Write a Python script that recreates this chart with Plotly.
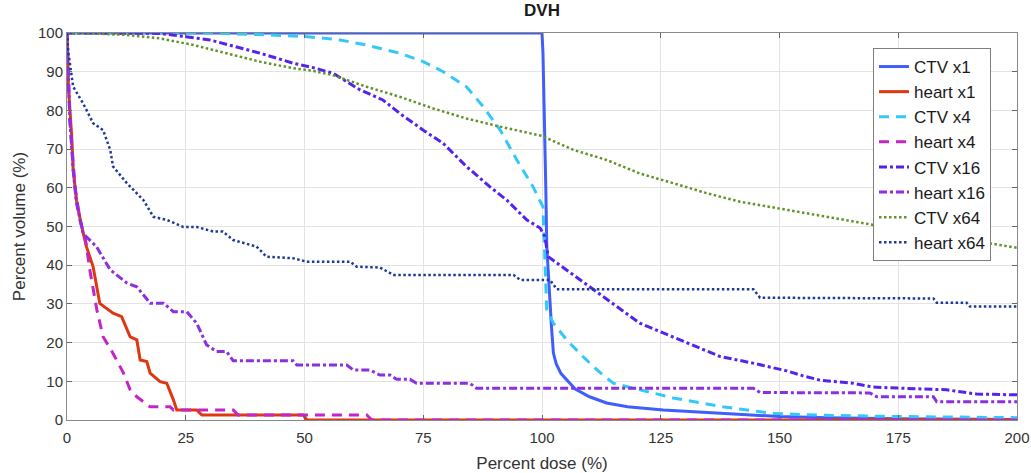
import plotly.graph_objects as go

# ---------------- data ----------------
dose_ctv1 = [0, 100, 100.2, 100.5, 100.8, 101, 101.5, 102, 102.4, 103, 104, 105.2, 107, 110, 113.6, 118, 125.5, 132, 140, 150, 160, 175, 200]
vol_ctv1 = [100, 100, 95, 80, 60, 45, 33, 24, 17.3, 14.5, 12, 10.3, 8, 6, 4.4, 3.4, 2.6, 2.1, 1.5, 0.9, 0.6, 0.3, 0.1]

dose_h1 = [0, 0.3, 1, 1.3, 2, 3.1, 4.1, 5.5, 6.9, 9.7, 11.5, 13.3, 14.7, 15.4, 16.8, 17.5, 19.6, 21, 22.4, 23.1, 27.3, 28.4, 49.7, 50.5, 200]
vol_h1 = [100, 86, 73, 64.6, 56.8, 49.9, 44.8, 39.6, 30.1, 27.6, 26.7, 21.5, 20.7, 15.5, 15.1, 12.1, 9.9, 9.5, 5.2, 2.6, 2.6, 1.3, 1.3, 0, 0]

dose_c4 = [0, 30, 40, 50, 57, 63, 70, 75, 79.2, 84.1, 87.6, 91.2, 94.7, 98.1, 100.2, 100.6, 101, 102.4, 105.2, 108.6, 112, 115, 120.6, 127.6, 138, 148.6, 160, 175, 200]
vol_c4 = [100, 100, 99.6, 99.1, 98.3, 96.9, 94.8, 92.6, 90, 86.1, 81, 74.9, 67.2, 60.3, 55.1, 42, 28.4, 25, 20.7, 16.4, 12.5, 9.5, 7.8, 5.7, 3.4, 1.7, 1.2, 0.9, 0.6]

dose_h4 = [0, 0.6, 1.7, 2.7, 3.8, 4.8, 6.3, 7.6, 9.7, 11.9, 13.3, 14.7, 17.5, 21.7, 22.4, 35, 36, 63.1, 64.2, 200]
vol_h4 = [100, 77.5, 60.3, 51.7, 47.4, 38.8, 28.4, 21.5, 17.2, 12.1, 7.8, 6, 3.4, 3.4, 2.6, 2.6, 1.3, 1.3, 0, 0]

dose_c16 = [0, 10, 19.6, 30.1, 40.6, 47.6, 52, 56, 61.7, 66.5, 70.1, 75, 79.2, 84.1, 89, 92.6, 96.8, 99.6, 100.6, 101.3, 105.2, 112.2, 120.6, 127.6, 137.5, 144.4, 151.5, 155, 158.5, 165.5, 169.7, 176, 185.2, 191.5, 200]
vol_c16 = [100, 100, 99.9, 98.2, 94.8, 92.2, 91, 89.6, 85.3, 82.7, 79.2, 74.9, 71.5, 65.5, 60.3, 56.8, 51.7, 49.6, 47.4, 42.2, 38.8, 32.5, 25, 21.5, 16.4, 14.7, 12.7, 11.4, 10.3, 9.5, 8.5, 8.2, 7.8, 6.7, 6.5]

dose_h16 = [0, 0.6, 1.3, 2, 3.4, 6.2, 9.1, 12.6, 14.7, 17.5, 20.3, 22.4, 25.2, 27.3, 29.4, 31.5, 33.6, 35, 47.6, 48.4, 58.9, 60.3, 63.8, 65.9, 68, 69.4, 72.2, 73.6, 84.8, 86.2, 144.5, 145.9, 169, 170.5, 182.4, 183.1, 200]
vol_h16 = [100, 77.5, 64.6, 56, 48.2, 44.8, 38.8, 35.4, 34.4, 30.2, 30.2, 28, 28, 25, 19.4, 17.7, 17.7, 15.3, 15.3, 14.2, 14.2, 12.9, 12.9, 11.6, 11.6, 10.5, 10.5, 9.5, 9.5, 8.2, 8.2, 7.1, 7.0, 6.0, 6.0, 4.7, 4.7]

dose_c64 = [0, 5, 12.6, 19.6, 26.6, 33.6, 40.6, 47.6, 51.9, 56, 63.1, 70.1, 77.1, 84.1, 91.2, 100, 106.6, 113.6, 120.6, 127.6, 134.7, 141.7, 151.5, 160, 175, 190, 200]
vol_c64 = [100, 99.9, 99.5, 98.6, 96.9, 94.8, 92.6, 90.9, 90.2, 89.1, 86.1, 83.5, 80.5, 77.9, 75.8, 73.4, 69.8, 67.2, 63.7, 61.2, 58.6, 56.4, 54.3, 52.5, 49.3, 46.5, 44.5]

dose_h64 = [0, 0.3, 1.3, 3.4, 5.5, 7.6, 9.1, 9.7, 12.6, 16.1, 18.2, 21, 24.5, 27.3, 30.8, 32.8, 35, 37.8, 39.9, 42, 47.6, 50.5, 59.6, 61, 65.9, 68.7, 94, 95.4, 101.7, 103.1, 144.5, 145.9, 182.4, 183.1, 189.4, 190.1, 200]
vol_h64 = [100, 94.8, 86.1, 81.8, 76.7, 74.9, 69.8, 65.5, 61.2, 56.8, 52.5, 51.7, 49.9, 49.9, 48.7, 48.7, 46.5, 45.6, 44.8, 42.2, 41.8, 40.9, 40.9, 39.6, 39.4, 37.5, 37.5, 36.2, 36.2, 33.8, 33.8, 31.6, 31.4, 30.3, 30.3, 29.3, 29.3]

names = ["CTV x1", "heart x1", "CTV x4", "heart x4", "CTV x16", "heart x16", "CTV x64", "heart x64"]
x_ticks = [0, 25, 50, 75, 100, 125, 150, 175, 200]
y_ticks = [0, 10, 20, 30, 40, 50, 60, 70, 80, 90, 100]

series = [
    (dose_ctv1, vol_ctv1, "#3f5efb", "solid", 3),
    (dose_h1, vol_h1, "#dd3812", "solid", 3),
    (dose_c4, vol_c4, "#33c8fa", "10px,7px", 3),
    (dose_h4, vol_h4, "#c425c8", "10px,7px", 3),
    (dose_c16, vol_c16, "#5523ee", "8px,3px,3px,3px", 3),
    (dose_h16, vol_h16, "#8a30e0", "8px,3px,3px,3px", 3),
    (dose_c64, vol_c64, "#5f9428", "2.5px,2.5px", 2.5),
    (dose_h64, vol_h64, "#1f3a96", "2.5px,2.5px", 2.5),
]

fig = go.Figure()
for name, (xs, ys, col, dash, w) in zip(names, series):
    fig.add_trace(go.Scatter(
        x=xs, y=ys, mode="lines", name=name, legendgroup=name,
        line=dict(color=col, dash=dash, width=w),
    ))

FONT = "Liberation Sans, Arial, sans-serif"
fig.update_layout(
    width=1031, height=473,
    margin=dict(l=67, r=14, t=33, b=53, autoexpand=False),
    paper_bgcolor="white", plot_bgcolor="white",
    font=dict(family=FONT, size=15, color="#333333"),
    title=dict(text="<b>DVH</b>", x=(67 + 1017) / 2 / 1031, xanchor="center",
               y=1 - 10 / 473, yanchor="middle", yref="container",
               font=dict(size=17, color="#1a1a1a")),
    legend=dict(x=(873 - 67) / 950, y=(420 - 48) / 387, xanchor="left", yanchor="top",
                bgcolor="white", bordercolor="#808080", borderwidth=1,
                font=dict(size=17, color="#1a1a1a"), tracegroupgap=0,
                traceorder="grouped"),
    showlegend=True,
)
fig.update_xaxes(
    range=[0, 200], tickvals=x_ticks, ticktext=[str(v) for v in x_ticks],
    automargin=False, ticklabelstandoff=4,
    showgrid=True, gridcolor="#e3e3e3", gridwidth=1,
    showline=True, linecolor="#8a8a8a", linewidth=1, mirror="ticks",
    ticks="inside", ticklen=5, tickcolor="#666666",
    zeroline=False,
    title=dict(text="Percent dose (%)", font=dict(size=17, color="#333333"), standoff=14),
)
fig.update_yaxes(
    range=[0, 100], tickvals=y_ticks, ticktext=[str(v) for v in y_ticks],
    automargin=False,
    showgrid=True, gridcolor="#e3e3e3", gridwidth=1,
    showline=True, linecolor="#8a8a8a", linewidth=1, mirror="ticks",
    ticks="inside", ticklen=5, tickcolor="#666666",
    zeroline=False,
    title=dict(text="Percent volume (%)", font=dict(size=17, color="#333333"), standoff=8),
)

fig.write_html("out.html")
